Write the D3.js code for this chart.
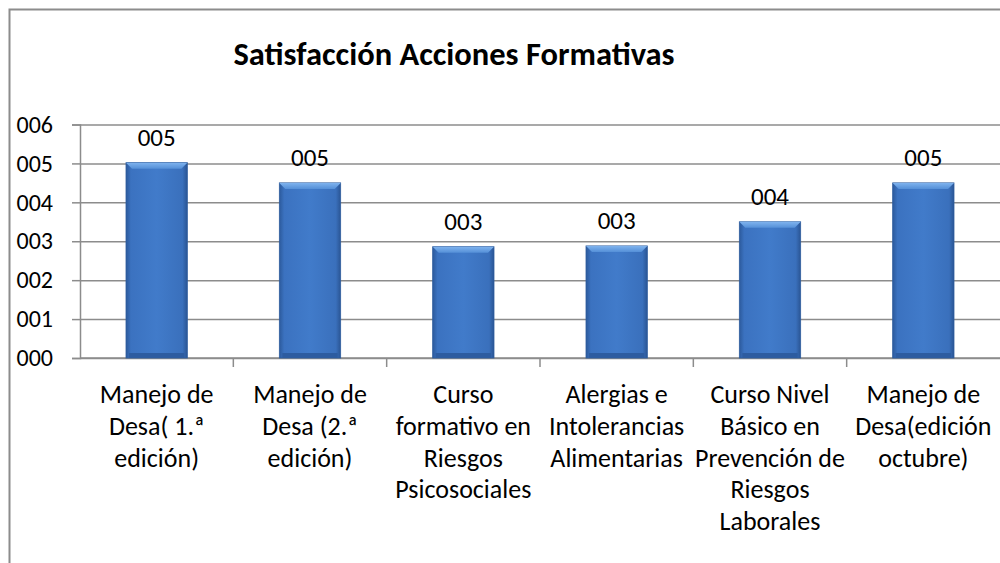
<!DOCTYPE html>
<html>
<head>
<meta charset="utf-8">
<script src="https://cdn.jsdelivr.net/npm/d3@7"></script>
<style>
  body { margin: 0; background: #fff; }
  svg { display: block; font-family: Carlito, Calibri, Lato, sans-serif; }
</style>
</head>
<body>
<svg width="1000" height="563"></svg>
<script>
var categories = [
  "Manejo de Desa( 1.ª edición)",
  "Manejo de Desa (2.ª edición)",
  "Curso formativo en Riesgos Psicosociales",
  "Alergias e Intolerancias Alimentarias",
  "Curso Nivel Básico en Prevención de Riesgos Laborales",
  "Manejo de Desa(edición octubre)"
];
var values = [5.02, 4.5, 2.86, 2.88, 3.5, 4.5];
var yTicks = [0, 1, 2, 3, 4, 5, 6];

var svg = d3.select("svg"),
    margin = {top: 124.5, right: 0, bottom: 205, left: 80},
    width = +svg.attr("width") - margin.left - margin.right,
    height = +svg.attr("height") - margin.top - margin.bottom;

var fmt = d3.format("03.0f");

var x = d3.scaleBand().domain(categories).range([0, width])
    .paddingInner(0.6).paddingOuter(0.3);
var y = d3.scaleLinear().domain([0, 6]).range([height, 0]);

// chart frame
svg.append("path")
    .attr("d", "M9.5,563V9.5H1000")
    .attr("fill", "none")
    .attr("stroke", "#8c8c8c")
    .attr("stroke-width", 2);

svg.append("text")
    .attr("x", 454)
    .attr("y", 65)
    .attr("text-anchor", "middle")
    .style("font-weight", "bold")
    .style("font-size", "32.5px")
    .text("Satisfacción Acciones Formativas");

var defs = svg.append("defs");
var grad = defs.append("linearGradient").attr("id", "barGrad")
    .attr("x1", 0).attr("x2", 1).attr("y1", 0).attr("y2", 0);
grad.append("stop").attr("offset", "0%").attr("stop-color", "#2c5a9c");
grad.append("stop").attr("offset", "8%").attr("stop-color", "#3b72c0");
grad.append("stop").attr("offset", "50%").attr("stop-color", "#417bca");
grad.append("stop").attr("offset", "92%").attr("stop-color", "#3a70bc");
grad.append("stop").attr("offset", "100%").attr("stop-color", "#2a5594");

var bevel = defs.append("linearGradient").attr("id", "bevelGrad")
    .attr("x1", 0).attr("x2", 0).attr("y1", 0).attr("y2", 1);
bevel.append("stop").attr("offset", "0%").attr("stop-color", "#7fb3ee");
bevel.append("stop").attr("offset", "100%").attr("stop-color", "#5590d8");

var g = svg.append("g")
    .attr("transform", "translate(" + margin.left + "," + margin.top + ")");

// gridlines
g.append("g")
    .attr("class", "grid")
    .call(d3.axisLeft(y).tickValues(yTicks).tickSize(-width).tickFormat(""))
    .call(function(s) {
      s.select(".domain").remove();
      s.selectAll("line").attr("stroke", "#8c8c8c").attr("stroke-width", 1.5);
    });

// y axis
g.append("g")
    .call(d3.axisLeft(y).tickValues(yTicks).tickSize(8).tickPadding(19).tickFormat(fmt))
    .call(function(s) {
      s.select(".domain").attr("stroke", "#8c8c8c").attr("stroke-width", 1.5);
      s.selectAll("line").attr("stroke", "#8c8c8c").attr("stroke-width", 1.5);
      s.selectAll("text").attr("fill", "#000").style("font-size", "24px")
        .style("font-family", "Carlito, Calibri, Lato, sans-serif");
    });

// x axis with boundary ticks
var xAxis = g.append("g").attr("transform", "translate(0," + height + ")");
xAxis.append("line").attr("x1", 0).attr("x2", width)
    .attr("stroke", "#8c8c8c").attr("stroke-width", 1.5);
xAxis.selectAll(".btick")
    .data(categories.slice(1))
    .enter().append("line")
      .attr("x1", function(d) { return x(d) - x.step() * x.paddingInner() / 2; })
      .attr("x2", function(d) { return x(d) - x.step() * x.paddingInner() / 2; })
      .attr("y1", 0).attr("y2", 9)
      .attr("stroke", "#8c8c8c").attr("stroke-width", 1.5);

function wrap(text, maxW) {
  text.each(function(d) {
    var t = d3.select(this), words = d.split(/\s+/), line = [], lines = [];
    var probe = t.append("tspan");
    words.forEach(function(w) {
      line.push(w);
      probe.text(line.join(" "));
      if (probe.node().getComputedTextLength() > maxW && line.length > 1) {
        line.pop();
        lines.push(line.join(" "));
        line = [w];
      }
    });
    lines.push(line.join(" "));
    probe.remove();
    lines.forEach(function(l, i) {
      t.append("tspan").attr("x", t.attr("x")).attr("y", +t.attr("y") + i * 31.8).text(l);
    });
  });
}

g.selectAll(".clabel")
  .data(categories)
  .enter().append("text")
    .attr("class", "clabel")
    .attr("x", function(d) { return x(d) + x.bandwidth() / 2; })
    .attr("y", height + 45)
    .attr("text-anchor", "middle")
    .style("font-size", "26px")
    .call(wrap, 160);

// bars
var bars = g.selectAll(".bar")
  .data(values)
  .enter().append("g")
    .attr("class", "bar");

bars.append("rect")
    .attr("x", function(d, i) { return x(categories[i]); })
    .attr("y", function(d) { return y(d); })
    .attr("width", x.bandwidth())
    .attr("height", function(d) { return height - y(d); })
    .attr("fill", "url(#barGrad)")
    .attr("stroke", "#2f5d9e")
    .attr("stroke-width", 0.8);

// top bevel
bars.append("path")
    .attr("d", function(d, i) {
      var x0 = x(categories[i]), x1 = x0 + x.bandwidth(), t = y(d), b = 6;
      return "M" + x0 + "," + t + "L" + x1 + "," + t + "L" + (x1 - b) + "," + (t + b) +
             "L" + (x0 + b) + "," + (t + b) + "Z";
    })
    .attr("fill", "url(#bevelGrad)");

// bottom shade
bars.append("rect")
    .attr("x", function(d, i) { return x(categories[i]) + 3; })
    .attr("y", height - 5)
    .attr("width", x.bandwidth() - 6)
    .attr("height", 5)
    .attr("fill", "#2d5ca0");

// value labels
g.selectAll(".vlabel")
  .data(values)
  .enter().append("text")
    .attr("class", "vlabel")
    .attr("x", function(d, i) { return x(categories[i]) + x.bandwidth() / 2; })
    .attr("y", function(d) { return y(d) - 17; })
    .attr("text-anchor", "middle")
    .style("font-size", "25px")
    .text(function(d) { return fmt(d); });
</script>
</body>
</html>
